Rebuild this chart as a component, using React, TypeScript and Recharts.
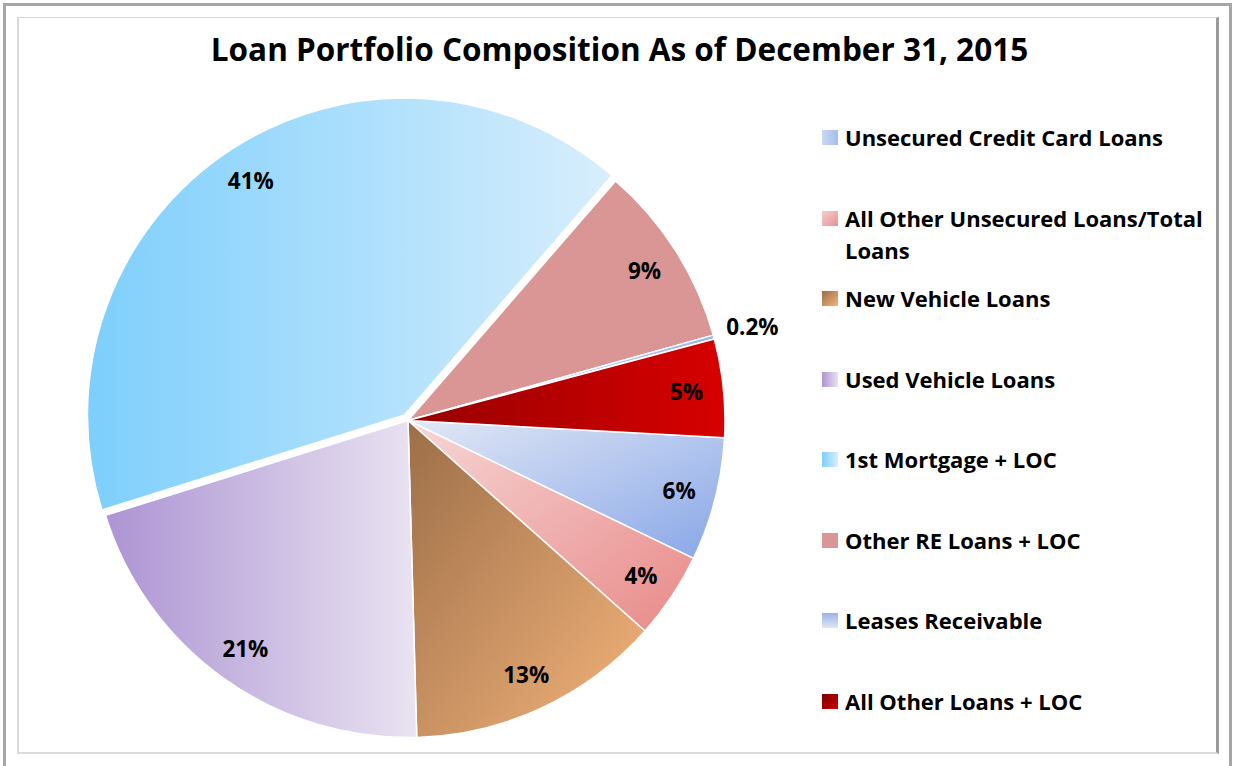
import React from "react";
import { PieChart, Pie, Cell, Legend } from "recharts";

// Loan mix, listed in the same order as the legend
const CATEGORIES = [
  "Unsecured Credit Card Loans",
  "All Other Unsecured Loans/Total Loans",
  "New Vehicle Loans",
  "Used Vehicle Loans",
  "1st Mortgage + LOC",
  "Other RE Loans + LOC",
  "Leases Receivable",
  "All Other Loans + LOC",
];
const SHARES = [6.3, 4.4, 13.0, 20.6, 41.2, 9.3, 0.2, 5.0];
const SHARE_LABELS = ["6%", "4%", "13%", "21%", "41%", "9%", "0.2%", "5%"];
const EXPLODED = 4; // 1st Mortgage slice is pulled out

const data = CATEGORIES.map((name, i) => ({ name, value: SHARES[i], label: SHARE_LABELS[i] }));

// gradient fills for slices (x1,y1 -> x2,y2 in bbox units)
const FILLS = [
  { id: "gUnsec", stops: ["#e2e8f6", "#88a7e7"], dir: [0, 0, 1, 1] },
  { id: "gOthUnsec", stops: ["#f6d6d6", "#e88a88"], dir: [0, 0, 1, 1] },
  { id: "gNewVeh", stops: ["#9c6e48", "#f4b47b"], dir: [0, 0, 1, 1] },
  { id: "gUsedVeh", stops: ["#ad94d3", "#e9e3f1"], dir: [0, 0, 1, 0] },
  { id: "gMortgage", stops: ["#7dcffc", "#d8eefc"], dir: [0, 0, 1, 0] },
  { id: "gOtherRE", stops: ["#d99694", "#d99694"], dir: [0, 0, 1, 0] },
  { id: "gLeases", stops: ["#9ab3e6", "#dfe6f5"], dir: [0, 0, 0, 1] },
  { id: "gAllOther", stops: ["#960000", "#d80000"], dir: [0, 0, 1, 0] },
];
// legend swatches use slightly different gradient directions
const SWATCHES = [
  { id: "sUnsec", stops: ["#cbd8f3", "#a6bdec"], dir: [0, 0, 1, 0] },
  { id: "sOthUnsec", stops: ["#f5cccc", "#e79391"], dir: [0, 0, 1, 1] },
  { id: "sNewVeh", stops: ["#9c6e48", "#f4b47b"], dir: [0, 0, 1, 1] },
  { id: "sUsedVeh", stops: ["#ad94d3", "#e9e3f1"], dir: [0, 0, 1, 0] },
  { id: "sMortgage", stops: ["#7dcffc", "#d8eefc"], dir: [0, 0, 1, 0] },
  { id: "sOtherRE", stops: ["#d99694", "#d99694"], dir: [0, 0, 1, 0] },
  { id: "sLeases", stops: ["#9ab3e6", "#dfe6f5"], dir: [0, 0, 0, 1] },
  { id: "sAllOther", stops: ["#7a0000", "#d00000"], dir: [0, 0, 1, 1] },
];

const W = 1233;
const H = 766;
const CX = 408;
const CY = 420.5;
const R = 317;
const START = -3.1;
const EXPLODE_DIST = 6.5;
const RADIAN = Math.PI / 180;
const FONT = "'Open Sans', Lato, sans-serif";

const total = SHARES.reduce((a, b) => a + b, 0);
const before = SHARES.slice(0, EXPLODED).reduce((a, b) => a + b, 0);
const explodeMid = START - ((before + SHARES[EXPLODED] / 2) / total) * 360;
const EX = Math.cos(explodeMid * RADIAN) * EXPLODE_DIST;
const EY = -Math.sin(explodeMid * RADIAN) * EXPLODE_DIST;

function Gradients({ list }: { list: typeof FILLS }) {
  return (
    <>
      {list.map((g) => (
        <linearGradient key={g.id} id={g.id} x1={g.dir[0]} y1={g.dir[1]} x2={g.dir[2]} y2={g.dir[3]}>
          <stop offset="0%" stopColor={g.stops[0]} />
          <stop offset="100%" stopColor={g.stops[1]} />
        </linearGradient>
      ))}
    </>
  );
}

function renderLabel(props: any) {
  const { cx, cy, midAngle, outerRadius, index } = props;
  const tiny = SHARES[index] < 1;
  const r = tiny ? outerRadius + 40 : outerRadius - 37;
  let x = cx + r * Math.cos(-midAngle * RADIAN);
  let y = cy + r * Math.sin(-midAngle * RADIAN);
  if (index === EXPLODED) {
    x += EX;
    y += EY;
  }
  return (
    <text
      key={`lbl-${index}`}
      x={x}
      y={y}
      textAnchor="middle"
      dominantBaseline="central"
      fontFamily={FONT}
      fontWeight={700}
      fontSize={22.5}
      fill="#000"
    >
      {SHARE_LABELS[index]}
    </text>
  );
}

function LegendBox() {
  return (
    <div style={{ position: "relative", width: 400, height: 620, fontFamily: FONT }}>
      {CATEGORIES.map((name, i) => (
        <div
          key={name}
          style={{
            position: "absolute",
            left: 0,
            top: i * 80.5,
            display: "flex",
            alignItems: "flex-start",
          }}
        >
          <svg width={16} height={15} style={{ marginTop: 9, flex: "none" }}>
            <rect width={16} height={15} fill={`url(#${SWATCHES[i].id})`} />
          </svg>
          <div
            style={{
              marginLeft: 7,
              width: 372,
              fontSize: 22,
              fontWeight: 700,
              lineHeight: "32px",
              color: "#000",
            }}
          >
            {name}
          </div>
        </div>
      ))}
    </div>
  );
}

export default function App() {
  return (
    <div style={{ position: "absolute", left: 0, top: 0, width: W, height: H, background: "#fff", overflow: "hidden" }}>
      <svg width={0} height={0} style={{ position: "absolute" }}>
        <defs>
          <Gradients list={FILLS} />
          <Gradients list={SWATCHES} />
        </defs>
      </svg>
      {/* outer frame */}
      <div
        style={{
          position: "absolute",
          left: 3,
          top: 3,
          width: 1229,
          height: 800,
          boxSizing: "border-box",
          border: "3px solid #a6a6a6",
        }}
      />
      {/* chart area border */}
      <div
        style={{
          position: "absolute",
          left: 17,
          top: 17,
          width: 1202,
          height: 737,
          boxSizing: "border-box",
          borderTop: "1px solid #d9d9d9",
          borderLeft: "2px solid #d9d9d9",
          borderBottom: "2px solid #dcdcdc",
          borderRight: "3px solid #9a9a9a",
        }}
      />
      <div
        style={{
          position: "absolute",
          left: 0,
          width: 1239,
          top: 29,
          textAlign: "center",
          fontFamily: FONT,
          fontWeight: 700,
          fontSize: 31.5,
          lineHeight: "40px",
          color: "#000",
        }}
      >
        Loan Portfolio Composition As of December 31, 2015
      </div>
      <div style={{ position: "absolute", left: 0, top: 0 }}>
        <PieChart width={W} height={H} margin={{ top: 0, right: 0, bottom: 0, left: 0 }}>
          <Pie
            data={data}
            dataKey="value"
            nameKey="name"
            cx={CX}
            cy={CY}
            outerRadius={R}
            startAngle={START}
            endAngle={START - 360}
            stroke="#fff"
            strokeWidth={1.5}
            label={renderLabel}
            labelLine={false}
            isAnimationActive={false}
          >
            {data.map((d, i) => (
              <Cell
                key={d.name}
                fill={i === EXPLODED ? "transparent" : `url(#${FILLS[i].id})`}
                stroke={i === EXPLODED ? "none" : "#fff"}
              />
            ))}
          </Pie>
          <Pie
            data={data}
            dataKey="value"
            nameKey="name"
            cx={CX + EX}
            cy={CY + EY}
            outerRadius={R}
            startAngle={START}
            endAngle={START - 360}
            stroke="#fff"
            strokeWidth={1.5}
            labelLine={false}
            isAnimationActive={false}
          >
            {data.map((d, i) => (
              <Cell
                key={d.name}
                fill={i === EXPLODED ? `url(#${FILLS[i].id})` : "transparent"}
                stroke={i === EXPLODED ? "#fff" : "none"}
              />
            ))}
          </Pie>
          <Legend
            layout="vertical"
            content={() => <LegendBox />}
            wrapperStyle={{ position: "absolute", left: 822, top: 121, width: 400, height: 620 }}
          />
        </PieChart>
      </div>
    </div>
  );
}
